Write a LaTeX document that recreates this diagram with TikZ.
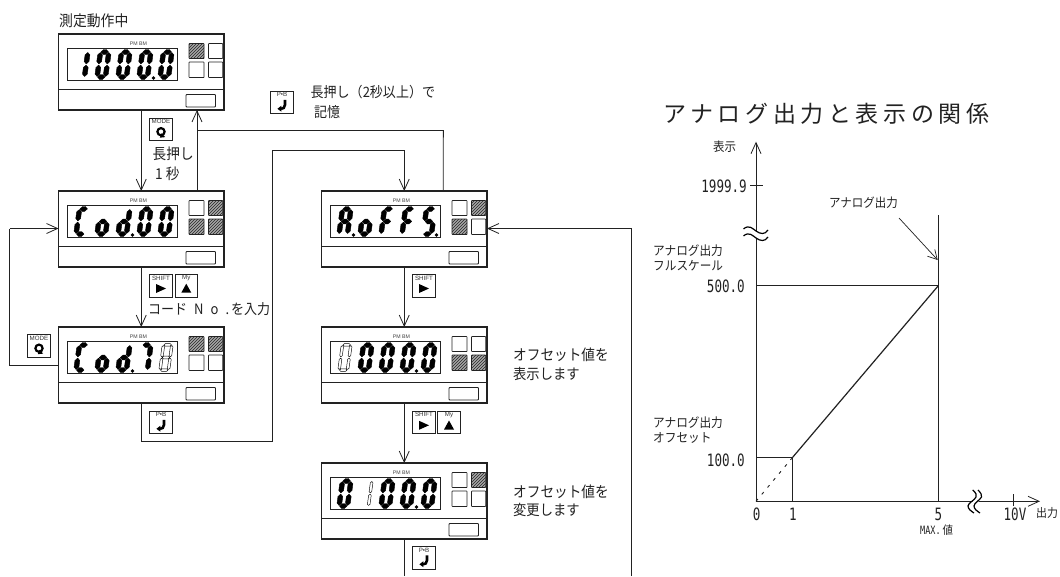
\documentclass[tikz,border=0pt]{standalone}
\usepackage{fontspec}
\usetikzlibrary{arrows.meta,patterns}
\newfontfamily\jp[FakeStretch=0.91]{Noto Sans CJK JP}
\newfontfamily\jpt[LetterSpace=20]{Noto Sans CJK JP}
\newfontfamily\lat{Liberation Sans}
\newfontfamily\nar[FakeStretch=0.74]{DejaVu Sans Mono}
\definecolor{ink}{HTML}{222222}
\tikzset{
  line/.style={draw=ink,line width=0.9pt},
  arr/.style={line,-{Straight Barb[length=11pt,width=10pt,line width=0.8pt]}},
  panelbox/.style={draw=ink,line width=1.2pt,minimum width=165.5pt,minimum height=76pt,inner sep=0,outer sep=0,anchor=north west},
  inner/.style={draw=ink,line width=0.9pt},
  lamph/.style={draw=ink,line width=0.7pt,rounded corners=0.5pt,fill=black!35,postaction={pattern=north east lines,pattern color=black!85}},
  lampo/.style={draw=ink,line width=0.7pt,rounded corners=0.5pt},
  btnbox/.style={draw=ink,line width=0.9pt,minimum size=22.5pt,inner sep=0,outer sep=0},
  tiny/.style={font=\lat\fontsize{5.2}{6}\selectfont,text=black!75,inner sep=0},
  btnlab/.style={font=\lat\fontsize{6.2}{7}\selectfont,text=black!80,inner sep=0},
  jp/.style={font=\jp\fontsize{#1}{#1}\selectfont,text=ink,inner sep=0,anchor=west},
  num/.style={font=\nar\fontsize{#1}{#1}\selectfont,text=ink,inner sep=0},
  segf/.style={fill=black,draw=black,line width=0.4pt,line join=round},
  sego/.style={draw=black,line width=0.45pt,line join=round},
}
% segment geometry
\def\hs#1#2#3#4{\path[#1] (#2,#4)--(#2+\st,#4-\st)--(#3-\st,#4-\st)--(#3,#4)--(#3-\st,#4+\st)--(#2+\st,#4+\st)--cycle;}
\def\vs#1#2#3#4{\path[#1] (#2,#3)--(#2+\st,#3+\st)--(#2+\st,#4-\st)--(#2,#4)--(#2-\st,#4-\st)--(#2-\st,#3+\st)--cycle;}
\def\sega#1{\hs{#1}{2.8}{10.2}{2.4}}
\def\segg#1{\hs{#1}{2.8}{10.2}{15}}
\def\segd#1{\hs{#1}{2.8}{10.2}{27.6}}
\def\segf#1{\vs{#1}{2.3}{3}{14.4}}
\def\sege#1{\vs{#1}{2.3}{15.6}{27}}
\def\segb#1{\vs{#1}{10.7}{3}{14.4}}
\def\segc#1{\vs{#1}{10.7}{15.6}{27}}
% digit: left x, segments, style, half thickness
\newcommand{\dg}[4]{\begin{scope}[shift={(#1+4,15.5)},xslant=0.135]\def\st{#4}
  \foreach \s in {#2}{\csname seg\s\endcsname{#3}}\end{scope}}
\newcommand{\fd}[2]{\dg{#1}{#2}{segf}{2.4}}
\newcommand{\od}[2]{\dg{#1}{#2}{sego}{1.3}}
\newcommand{\fz}[1]{\fd{#1}{a,b,c,d,e,f}}
\newcommand{\dotp}[1]{\fill[black] (#1,44) circle (1.9pt);}
% panel: name, x, y, lamp styles, digits
\newcommand{\panel}[8]{%
 \begin{scope}[shift={(#2,#3)}]
  \node[panelbox] (#1) at (0,0) {};
  \draw[inner] (0,55.5)--(165.5,55.5);
  \draw[inner] (8.5,14) rectangle (118.5,46);
  \draw[inner,rounded corners=0.8pt] (127.5,60.5) rectangle (157,73);
  \node[tiny] (#1pm) at (80,9.7) {PM BM};
  \path[#4] (130.5,9.5) rectangle (145.5,24.5);
  \path[#5] (150,9.5) rectangle (164.2,24.5);
  \path[#6] (130.5,28) rectangle (145.5,43.5);
  \path[#7] (150,28) rectangle (164.2,43.5);
  #8
 \end{scope}}
% button: name, cx, cy, label, icon
\newcommand{\btn}[5]{%
  \node[btnbox] (#1) at (#2,#3) {};
  \node[btnlab] (#1l) at (#2,#3-7.8) {#4};
  \begin{scope}[shift={(#2,#3+2.8)}]#5\end{scope}}
\def\icR{\fill[black] (-5,-4.5)--(5,0)--(-5,4.5)--cycle;}
\def\icU{\fill[black] (-5,4.2)--(0,-4.8)--(5,4.2)--cycle;}
\def\icM{\draw[black,line width=2.2pt] (0,-0.6) circle (3.6pt);\fill[black] (0.2,1)--(4.2,4.8)--(-1.2,5.4)--cycle;}
\def\icP{\draw[black,line width=2.6pt] (3,-5.5)--(3,-0.5) .. controls (3,2.5) and (1,3.5) .. (-1,3.5);\fill[black] (-4.6,3.5)--(-0.6,0.4)--(-0.6,6.4)--cycle;}
\begin{document}
\begin{tikzpicture}[x=1pt,y=-1pt]
\useasboundingbox (0,0) rectangle (1060,576);
\fill[white] (0,0) rectangle (1060,576);

\panel{p1}{58.5}{34}{lamph}{lampo}{lampo}{lampo}{%
  \fd{15}{b,c}\fz{36}\fz{57}\fz{78}\dotp{95}\fz{99}}
\panel{p2}{58.5}{191}{lampo}{lamph}{lamph}{lamph}{%
  \fd{15}{a,d,e,f}\fd{36}{c,d,e,g}\fd{57}{b,c,d,e,g}\dotp{74}\fz{78}\fz{99}}
\panel{p3}{58.5}{327}{lamph}{lamph}{lampo}{lampo}{%
  \fd{15}{a,d,e,f}\fd{36}{c,d,e,g}\fd{57}{b,c,d,e,g}\dotp{74}\fd{78}{a,b,c}\od{99}{a,b,c,d,e,f,g}}
\panel{p4}{321.5}{191}{lampo}{lamph}{lamph}{lampo}{%
  \fd{15}{a,b,c,e,f,g}\dotp{32}\fd{36}{c,d,e,g}\fd{57}{a,e,f,g}\fd{78}{a,e,f,g}\fd{99}{a,c,d,f,g}\dotp{115}}
\panel{p5}{321.5}{327}{lampo}{lampo}{lamph}{lamph}{%
  \od{15}{a,b,c,d,e,f}\fz{36}\fz{57}\fz{78}\dotp{95}\fz{99}}
\panel{p6}{321.5}{463}{lampo}{lamph}{lampo}{lampo}{%
  \fz{15}\od{36}{b,c}\fz{57}\fz{78}\dotp{95}\fz{99}}

% buttons
\btn{b1}{161}{129.5}{MODE}{\icM}
\btn{b2}{282}{102.5}{P•B}{\icP}
\btn{b3}{161}{285.7}{SHIFT}{\icR}
\btn{b4}{186.3}{285.7}{My}{\icU}
\btn{b5}{39}{346}{MODE}{\icM}
\btn{b6}{161}{422.5}{P•B}{\icP}
\btn{b7}{424}{285.7}{SHIFT}{\icR}
\btn{b8}{424}{422.5}{SHIFT}{\icR}
\btn{b9}{449}{422.5}{My}{\icU}
\btn{b10}{424}{558}{P•B}{\icP}

% connectors
\coordinate (c1) at (197,130.5);
\coordinate (c2) at (443.3,130.5);
\coordinate (c3) at (141.25,441);
\coordinate (c4) at (272.7,441);
\coordinate (c5) at (272.7,150);
\coordinate (c6) at (404.25,150);
\coordinate (c7) at (9.5,365);
\coordinate (c8) at (9.5,228.5);
\coordinate (c9) at (404.25,576);
\coordinate (c10) at (631.5,576);
\coordinate (c11) at (631.5,228.5);
\draw[arr] (p1.south) -- (p2.north);
\draw[arr] ([xshift=55.75pt]p2.north) -- ([xshift=55.75pt]p1.south);
\draw[line] (c1) -- (c2) -- ([xshift=39pt]p4.north);
\draw[arr] (p2.south) -- (p3.north);
\draw[line] (p3.south) -- (c3) -- (c4) -- (c5) -- (c6);
\draw[arr] (c6) -- (p4.north);
\draw[arr] (p4.south) -- (p5.north);
\draw[arr] (p5.south) -- (p6.north);
\draw[line] (p6.south) -- (c9);
\draw[line] (c10) -- (c11);
\draw[arr] (c11) -- (c11 -| p4.east);
\draw[line] (c7 -| p3.west) -- (c7) -- (c8);
\draw[arr] (c8) -- (c8 -| p2.west);

% flow texts
\node[jp=15.2] (t1) at (59,21) {測定動作中};
\node[jp=15] (t2) at (152.5,154) {長押し};
\node[jp=15] (t3) at (155,174) {1 秒};
\node[jp=14.3] (t4) at (148,309) {コード\hspace{7pt}N\hspace{7pt}o\hspace{7pt}.\hspace{2pt}を入力};
\node[jp=14.3] (t5) at (310.5,92) {長押し（2秒以上）で};
\node[jp=14.3] (t6) at (314,112.5) {記憶};
\node[jp=15] (t7) at (513,355) {オフセット値を};
\node[jp=14.6] (t8) at (513,374) {表示します};
\node[jp=15] (t9) at (513,492) {オフセット値を};
\node[jp=14.6] (t10) at (513,510) {変更します};

% chart
\node[font=\jpt\fontsize{23}{25}\selectfont,text=ink,inner sep=0,anchor=west] (title) at (663,114) {アナログ出力と表示の関係};
\coordinate (O) at (756,501.3);
\coordinate (Ytop) at (756,141.7);
\coordinate (Xend) at (1040,501.3);
\coordinate (A) at (792.3,457.7);
\coordinate (B) at (938.3,285.7);
\coordinate (Btop) at (938.3,215);
\coordinate (B5) at (938.3,501.3);
\coordinate (A1) at (792.3,501.3);
\coordinate (Y100) at (756,457.7);
\coordinate (Y500) at (756,285.7);
\coordinate (Tl) at (750,185.7);
\coordinate (Tr) at (762.5,185.7);
\coordinate (Ap) at (899,218);
\coordinate (Aq) at (937.7,260);
\coordinate (Ta) at (1013,494);
\coordinate (Tb) at (1013,506);
\draw[arr] (O) -- (Ytop);
\draw[arr] (O) -- (Xend);
\draw[line] (Tl) -- (Tr);
\draw[line] (Y500) -- (B);
\draw[line] (Btop) -- (B5);
\draw[line,line width=1.2pt] (A) -- (B);
\draw[line] (Y100) -- (A) -- (A1);
\draw[line,dash pattern=on 3pt off 6pt] (O) -- (A);
\draw[line] (Ta) -- (Tb);
\draw[draw=ink,line width=0.7pt,-{Straight Barb[length=9pt,width=10pt,line width=0.7pt]}] (Ap) -- (Aq);
% break marks
\fill[white] (743.5,229) .. controls (749,224) and (753,229) .. (756,231) .. controls (760,234) and (765,235) .. (768,230) -- (768,237) .. controls (765,242) and (760,241) .. (756,238) .. controls (753,236) and (749,231) .. (743.5,236) -- cycle;
\draw[black,line width=1.2pt] (743.5,229) .. controls (749,224) and (753,229) .. (756,231) .. controls (760,234) and (765,235) .. (768,230);
\draw[black,line width=1.2pt] (743.5,236) .. controls (749,231) and (753,236) .. (756,238) .. controls (760,241) and (765,242) .. (768,237);
\fill[white] (972.7,490) -- (976.5,497) -- (968,507) -- (974,513) -- (980,513) -- (974,507) -- (982,497) -- (978,490) -- cycle;
\draw[black,line width=1.2pt] (972.7,490) .. controls (976,493) and (977,495) .. (976,497) .. controls (975,500) and (968,503) .. (968,506) .. controls (968,509) and (971,511) .. (974,513);
\draw[black,line width=1.2pt] (978,490) .. controls (981,493) and (982,495) .. (981.5,497) .. controls (980,500) and (974,503) .. (974,506) .. controls (974,509) and (977,511) .. (980,513);
% chart labels
\node[jp=12.6] (l1) at (713,147) {表示};
\node[jp=12.6] (l2) at (829,203) {アナログ出力};
\node[jp=12.8] (l3) at (653,251) {アナログ出力};
\node[jp=12.8] (l4) at (653,266) {フルスケール};
\node[jp=12.8] (l5) at (653,422.7) {アナログ出力};
\node[jp=12.8] (l6) at (653,438.3) {オフセット};
\node[num=17,anchor=east] (n1) at (747,186.5) {1999.9};
\node[num=17,anchor=east] (n2) at (745,286.7) {500.0};
\node[num=17,anchor=east] (n3) at (745,460.7) {100.0};
\node[num=17] (n4) at (756.7,514) {0};
\node[num=17] (n5) at (793,514) {1};
\node[num=17] (n6) at (938.3,514) {5};
\node[num=17] (n7) at (1015,514) {10V};
\node[jp=12] (l7) at (1036,512.7) {出力};
\node[font=\nar\fontsize{11.5}{12}\selectfont,text=ink,inner sep=0,anchor=west] (l8) at (920,530) {MAX.\,\jp\fontsize{11.5}{12}\selectfont 値};
\end{tikzpicture}
\end{document}
